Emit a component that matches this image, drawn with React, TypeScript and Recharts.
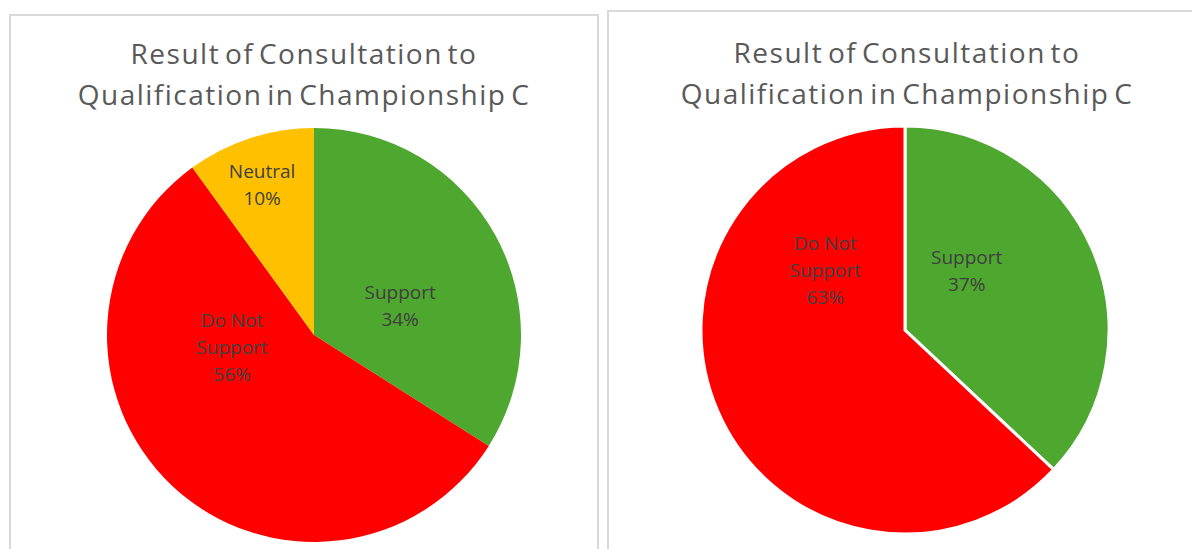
import { Cell, Pie, PieChart } from "recharts";

const TITLE_LINES = ["Result of Consultation to", "Qualification in Championship C"];

// left chart: three answers
const LEFT_NAMES = ["Support", "Do Not Support", "Neutral"];
const LEFT_VALUES = [34, 56, 10];
const LEFT_COLORS = ["#4ea72e", "#ff0000", "#ffc000"];

// right chart: two answers
const RIGHT_NAMES = ["Support", "Do Not Support"];
const RIGHT_VALUES = [37, 63];
const RIGHT_COLORS = ["#4ea72e", "#ff0000"];

// label placement (share of radius, angle in degrees), Excel "best fit" style
const LEFT_LABEL_POS = [
  { r: 0.44, a: 19 },
  { r: 0.4, a: 188 },
  { r: 0.77, a: 109 },
];
const RIGHT_LABEL_POS = [
  { r: 0.42, a: 44 },
  { r: 0.49, a: 143 },
];

const FONT = "'Open Sans', sans-serif";
const RAD = Math.PI / 180;
const CHART_MARGIN = { top: 0, right: 0, bottom: 0, left: 0 };

type LabelPos = { r: number; a: number };

function makeLabel(names: string[], pos: LabelPos[]) {
  return (props: any) => {
    const { cx, cy, outerRadius, index, percent } = props;
    const p = pos[index];
    const x = cx + outerRadius * p.r * Math.cos(p.a * RAD);
    const y = cy - outerRadius * p.r * Math.sin(p.a * RAD);
    const words = names[index] === "Do Not Support" ? ["Do Not", "Support"] : [names[index]];
    const lines = [...words, `${Math.round(percent * 100)}%`];
    const lh = 27;
    const top = y - ((lines.length - 1) * lh) / 2;
    return (
      <text
        x={x}
        y={top}
        textAnchor="middle"
        dominantBaseline="central"
        fill="#404040"
        fontSize={19}
        fontFamily={FONT}
      >
        {lines.map((line, i) => (
          <tspan key={i} x={x} dy={i === 0 ? 0 : lh}>
            {line}
          </tspan>
        ))}
      </text>
    );
  };
}

function Panel({
  left,
  top,
  width,
  titleTop,
  names,
  values,
  colors,
  labelPos,
  cx,
  cy,
  radius,
  stroke,
}: {
  left: number;
  top: number;
  width: number;
  titleTop: number;
  names: string[];
  values: number[];
  colors: string[];
  labelPos: LabelPos[];
  cx: number;
  cy: number;
  radius: number;
  stroke: string;
}) {
  const data = names.map((name, i) => ({ name, value: values[i] }));
  return (
    <div
      style={{
        position: "absolute",
        left,
        top,
        width,
        height: 600,
        border: "2px solid #d9d9d9",
        boxSizing: "border-box",
        background: "#fff",
      }}
    >
      <div
        style={{
          position: "absolute",
          left: 0,
          right: 0,
          top: titleTop,
          textAlign: "center",
          fontFamily: FONT,
          fontSize: 28,
          letterSpacing: 1.5,
          wordSpacing: -4,
          lineHeight: "41px",
          color: "#595959",
        }}
      >
        {TITLE_LINES.map((t) => (
          <div key={t}>{t}</div>
        ))}
      </div>
      <div style={{ position: "absolute", left: 0, top: 0 }}>
        <PieChart width={width - 4} height={596} margin={CHART_MARGIN}>
          <Pie
            data={data}
            dataKey="value"
            nameKey="name"
            cx={cx}
            cy={cy}
            outerRadius={radius}
            startAngle={90}
            endAngle={-270}
            stroke={stroke}
            strokeWidth={stroke === "none" ? 0 : 3}
            labelLine={false}
            label={makeLabel(names, labelPos)}
            isAnimationActive={false}
          >
            {data.map((d, i) => (
              <Cell key={d.name} fill={colors[i]} />
            ))}
          </Pie>
        </PieChart>
      </div>
    </div>
  );
}

export default function App() {
  return (
    <div
      style={{
        position: "fixed",
        left: 0,
        top: 0,
        width: 1192,
        height: 549,
        overflow: "hidden",
        background: "#fff",
      }}
    >
      <Panel
        left={9}
        top={14}
        width={590}
        titleTop={17}
        names={LEFT_NAMES}
        values={LEFT_VALUES}
        colors={LEFT_COLORS}
        labelPos={LEFT_LABEL_POS}
        cx={303}
        cy={319}
        radius={207}
        stroke="none"
      />
      <Panel
        left={607}
        top={10}
        width={600}
        titleTop={20}
        names={RIGHT_NAMES}
        values={RIGHT_VALUES}
        colors={RIGHT_COLORS}
        labelPos={RIGHT_LABEL_POS}
        cx={296}
        cy={318}
        radius={204}
        stroke="#ffffff"
      />
    </div>
  );
}
